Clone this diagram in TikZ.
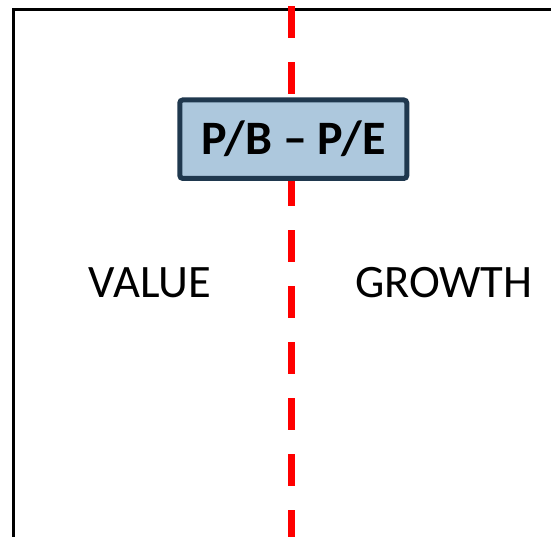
\documentclass[tikz,border=0pt]{standalone}
\usepackage{fontspec}
\setmainfont{Carlito}
\begin{document}
\begin{tikzpicture}[x=1pt,y=1pt,
  frame/.style={draw=black,line width=3.2pt},
  divider/.style={draw={rgb,255:red,255;green,0;blue,0},line width=7.5pt,dash pattern=on 32pt off 24pt},
  ratiobox/.style={draw={rgb,255:red,31;green,56;blue,78},fill={rgb,255:red,173;green,200;blue,221},line width=5pt,rounded corners=3pt,minimum width=227pt,minimum height=78.5pt,inner sep=0pt,font=\fontsize{48}{58}\selectfont\bfseries},
  label/.style={inner sep=0pt,font=\fontsize{46.5}{56}\selectfont}]
\useasboundingbox (0,0) rectangle (551,-536);
\draw[frame] (13.5,-9.5) rectangle (600,-600);
\coordinate (dtop) at (291.3,-6);
\coordinate (dbot) at (291.3,-560);
\draw[divider] (dtop) -- (dbot);
\node[ratiobox] (ratio) at (293.3,-139.2) {P/B – P/E};
\node[label] (value) at (150,-283) {VALUE};
\node[label] (growth) at (443.8,-283) {GROWTH};
\end{tikzpicture}
\end{document}
